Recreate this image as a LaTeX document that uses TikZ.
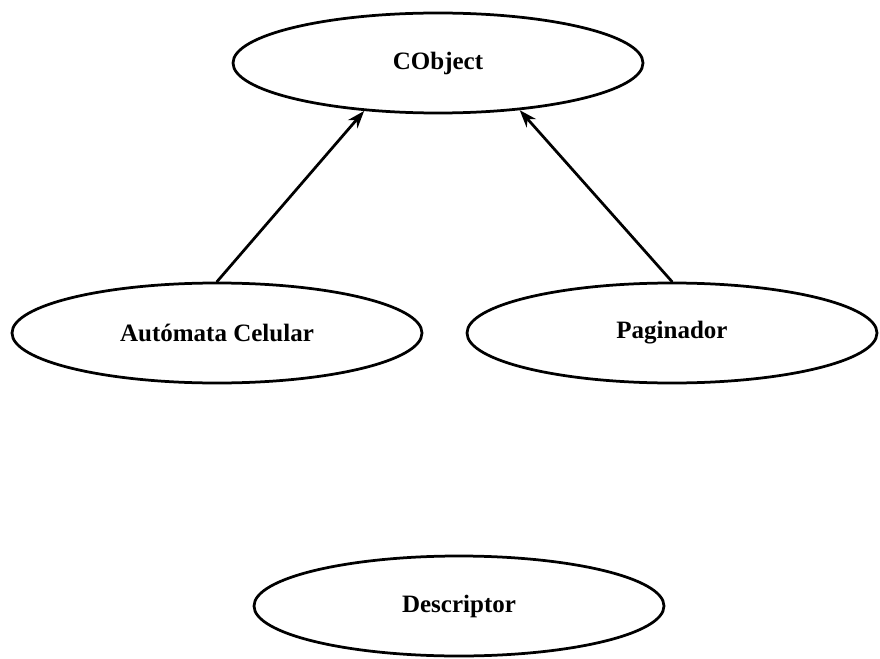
\documentclass[tikz,border=0pt]{standalone}
\usepackage{fontspec}
\setmainfont{Liberation Serif}
\usetikzlibrary{arrows.meta,shapes.geometric}
\tikzset{
  every picture/.style={font=\bfseries, line join=round, line cap=round, >=Stealth},
  class/.style={ellipse, draw, line width=1.1pt, minimum width=164pt, minimum height=40pt, inner sep=0pt},
  inherit/.style={->, line width=1.1pt, >={Stealth[length=7pt,width=5pt]}},
}

\begin{document}
\begin{tikzpicture}[x=0.4pt,y=-0.4pt]
\useasboundingbox (0,0) rectangle (880,659);
\node[class] (cobj) at (438,63) {CObject};
\node[class] (auto) at (217,333) {Autómata Celular};
\node[class] (pag) at (672,333) {Paginador};
\node[class] (desc) at (459,606) {Descriptor};
\draw[inherit] (auto.north) -- (cobj.213);
\draw[inherit] (pag.north) -- (cobj.330);
\end{tikzpicture}
\end{document}
